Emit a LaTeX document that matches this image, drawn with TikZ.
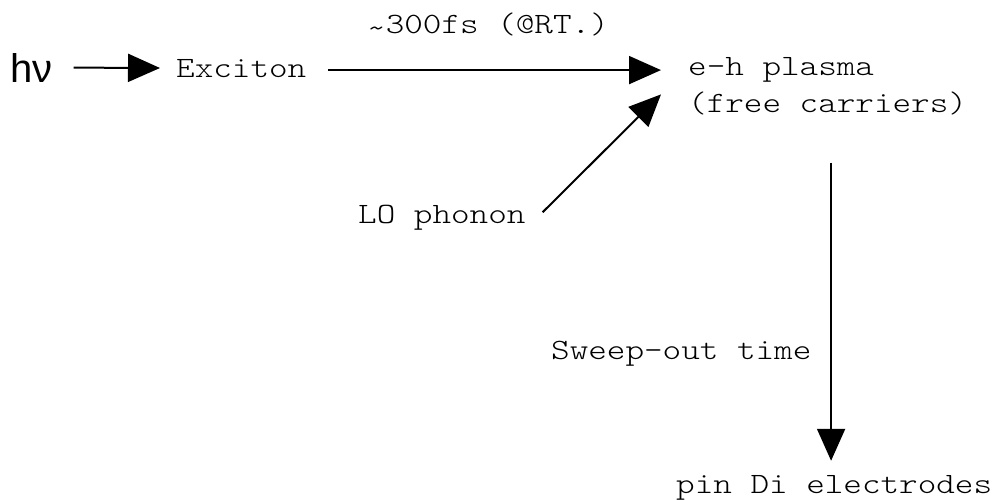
\documentclass[tikz,border=0pt]{standalone}
\usepackage{fontspec}
\newfontfamily\courfont[FakeStretch=1.2]{Latin Modern Mono Light}
\newfontfamily\hvfont{Liberation Sans}
\usetikzlibrary{arrows.meta}
\tikzset{
  lbl/.style={inner sep=0pt, anchor=base west, font=\courfont\fontsize{29.5}{37}\selectfont},
  arr/.style={line width=2pt, -{Triangle[length=32pt,width=28pt]}}
}
\begin{document}
\begin{tikzpicture}[x=1pt,y=-1pt]
\useasboundingbox[fill=white] (0,0) rectangle (996,499);
\node[inner sep=0pt, anchor=base west, font=\hvfont\fontsize{40}{48}\selectfont] (hv) at (10,82) {hν};
\node[lbl] (exc) at (176,77) {Exciton};
\node[lbl] (time) at (367,33) {\raisebox{-0.35ex}{\textasciitilde}300fs (@RT.)};
\node[lbl] (plasma) at (688,75) {e-h plasma};
\node[lbl] (carriers) at (688,112) {(free carriers)};
\node[lbl] (lo) at (358,223) {LO phonon};
\node[lbl] (sweep) at (551,359) {Sweep-out time};
\node[lbl] (elec) at (676,493) {pin Di electrodes};
\draw[arr, shorten <=21pt, shorten >=16pt] (hv.east) -- (exc.west);
\draw[arr, shorten <=22pt, shorten >=27pt] ([yshift=-2pt]exc.east) -- ([yshift=-2pt]exc.east -| plasma.west);
\draw[arr] ([shift={(17,-5)}]lo.east) -- ([shift={(-27,25)}]plasma.west);
\draw[arr] ([shift={(3.5,48)}]carriers.south) -- ([shift={(3.5,-14)}]carriers.south |- elec.north);
\end{tikzpicture}
\end{document}
